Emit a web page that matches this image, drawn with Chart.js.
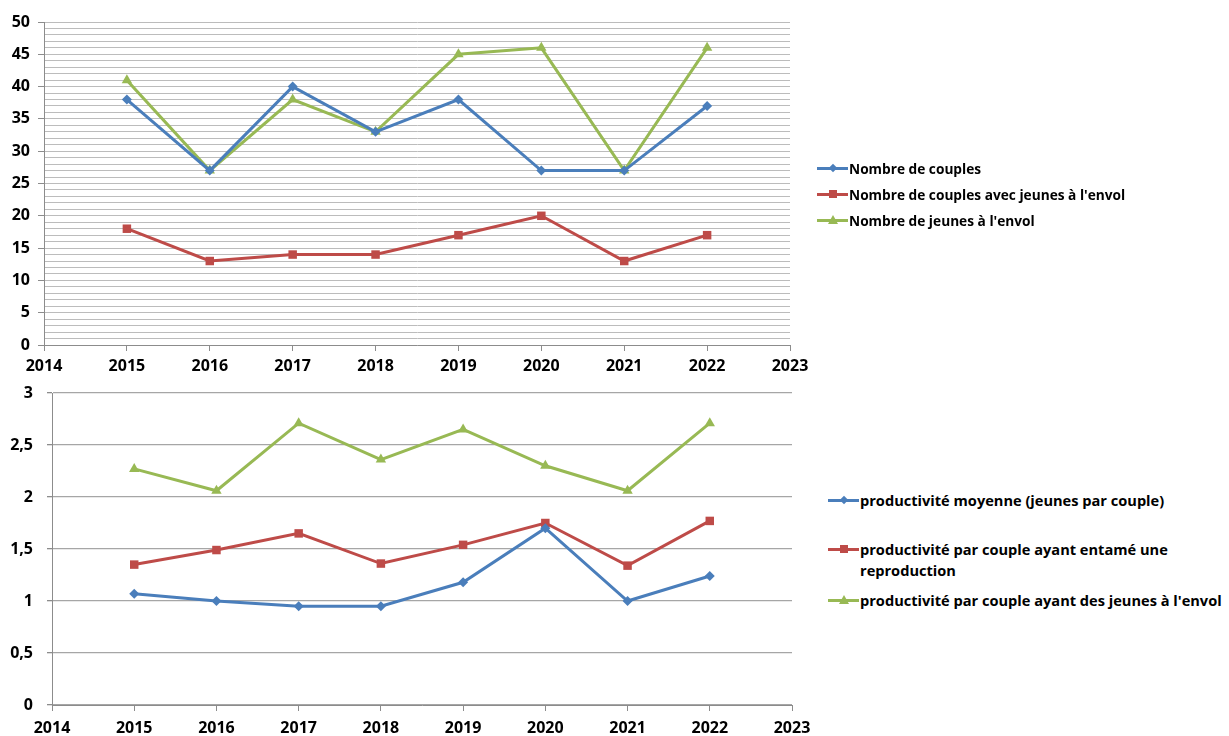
<!DOCTYPE html>
<html>
<head>
<meta charset="utf-8">
<script src="https://cdn.jsdelivr.net/npm/chart.js@4"></script>
<style>
  html, body { margin: 0; padding: 0; background: #fff; }
  body { width: 1229px; height: 736px; position: relative; overflow: hidden;
         font-family: "Open Sans", Arial, sans-serif; font-weight: bold; color: #000; }
  .box { position: absolute; }
  .leg { position: absolute; font-size: 13.7px; white-space: nowrap; }
  .leg .item { position: absolute; left: 0; }
  .leg .key { position: absolute; width: 31px; height: 3px; left: 0; top: -1.5px; }
  .leg .txt { position: absolute; left: 32px; top: -10px; line-height: 21px; }
  .mk { position: absolute; left: 50%; top: 50%; }
  .diamond { width: 6px; height: 6px; margin: -3px 0 0 -3px; transform: rotate(45deg); }
  .square { width: 8px; height: 8px; margin: -4px 0 0 -4px; }
  .tri { width: 0; height: 0; margin: -5px 0 0 -5px; border-left: 5px solid transparent;
         border-right: 5px solid transparent; border-bottom: 9px solid; }
</style>
</head>
<body>
<div class="box" style="left:0;top:0;width:820px;height:380px"><canvas id="topChart"></canvas></div>
<div class="box" style="left:0;top:380px;width:822px;height:356px"><canvas id="bottomChart"></canvas></div>

<div class="leg" id="topLegend" style="left:817px;top:0;"></div>
<div class="leg" id="bottomLegend" style="left:828px;top:0;font-size:14.6px;"></div>

<script>
var years = [2015, 2016, 2017, 2018, 2019, 2020, 2021, 2022];

var couples        = [38, 27, 40, 33, 38, 27, 27, 37];
var couplesJeunes  = [18, 13, 14, 14, 17, 20, 13, 17];
var jeunesEnvol    = [41, 27, 38, 33, 45, 46, 27, 46];

var prodMoyenne    = [1.07, 1.00, 0.95, 0.95, 1.18, 1.70, 1.00, 1.24];
var prodRepro      = [1.35, 1.49, 1.65, 1.36, 1.54, 1.75, 1.34, 1.77];
var prodEnvol      = [2.27, 2.06, 2.71, 2.36, 2.65, 2.30, 2.06, 2.71];

var topLabels = ["Nombre de couples", "Nombre de couples avec jeunes à l'envol", "Nombre de jeunes à l'envol"];
var bottomLabels = ["productivité moyenne (jeunes par couple)", "productivité par couple ayant entamé une\nreproduction", "productivité par couple ayant des jeunes à l'envol"];

var BLUE = "#4a7ebb", RED = "#be4b48", GREEN = "#98b954";
var colors = [BLUE, RED, GREEN];
var shapes = ["rectRot", "rect", "triangle"];
var radii = [5, 6, 6];

Chart.defaults.font.family = "'Open Sans', Arial, sans-serif";
Chart.defaults.font.weight = "bold";
Chart.defaults.color = "#000";
Chart.defaults.animation = false;

function pts(values) {
  return values.map(function (v, i) { return { x: years[i], y: v }; });
}

function makeSets(series) {
  return series.map(function (s, i) {
    return {
      data: pts(s),
      borderColor: colors[i],
      backgroundColor: colors[i],
      pointBackgroundColor: colors[i],
      pointBorderColor: colors[i],
      borderWidth: 3,
      pointStyle: shapes[i],
      pointRadius: radii[i],
      pointBorderWidth: 0,
      tension: 0
    };
  });
}

function xAxis(h, pad) {
  return {
    type: "linear",
    min: 2014, max: 2023,
    afterFit: function (s) { s.height = h; },
    border: { color: "#8c8c8c", width: 1 },
    grid: { drawOnChartArea: false, drawTicks: true, tickLength: 6, tickColor: "#8c8c8c" },
    ticks: { stepSize: 1, autoSkip: false, maxRotation: 0, padding: pad,
             font: { size: 16, weight: "bold" },
             callback: function (v) { return String(v); } }
  };
}

new Chart(document.getElementById("topChart"), {
  type: "line",
  data: { datasets: makeSets([couples, couplesJeunes, jeunesEnvol]) },
  options: {
    responsive: true,
    maintainAspectRatio: false,
    layout: { padding: { top: 22, right: 30, left: 0, bottom: 0 } },
    plugins: { legend: { display: false }, tooltip: { enabled: false } },
    scales: {
      x: xAxis(35, 6),
      y: {
        min: 0, max: 50,
        afterFit: function (s) { s.width = 44; s.paddingTop = 10; s.paddingBottom = 10; },
        border: { color: "#8c8c8c", width: 1 },
        grid: {
          color: "#bcbcbc",
          lineWidth: 1,
          tickLength: 6,
          tickColor: function (c) { return c.tick && c.tick.value % 5 === 0 ? "#8c8c8c" : "rgba(0,0,0,0)"; }
        },
        ticks: {
          stepSize: 1, autoSkip: false, maxTicksLimit: 100, padding: 8,
          font: { size: 16, weight: "bold" },
          callback: function (v) { return v % 5 === 0 ? String(v) : ""; }
        }
      }
    }
  }
});

new Chart(document.getElementById("bottomChart"), {
  type: "line",
  data: { datasets: makeSets([prodMoyenne, prodRepro, prodEnvol]) },
  options: {
    responsive: true,
    maintainAspectRatio: false,
    layout: { padding: { top: 13, right: 30, left: 0, bottom: 0 } },
    plugins: { legend: { display: false }, tooltip: { enabled: false } },
    scales: {
      x: xAxis(31, 8),
      y: {
        min: 0, max: 3,
        afterFit: function (s) { s.width = 52; s.paddingTop = 10; s.paddingBottom = 10; },
        border: { color: "#8c8c8c", width: 1 },
        grid: { color: "#a6a6a6", lineWidth: 1.3, tickLength: 5, tickColor: "#8c8c8c" },
        ticks: {
          stepSize: 0.5, padding: 14,
          font: { size: 16, weight: "bold" },
          callback: function (v) { return String(v).replace(".", ","); }
        }
      }
    }
  }
});

function buildLegend(el, labels, ys) {
  var cls = ["diamond", "square", "tri"];
  labels.forEach(function (label, i) {
    var item = document.createElement("div");
    item.className = "item";
    item.style.top = ys[i] + "px";
    var key = document.createElement("div");
    key.className = "key";
    key.style.background = colors[i];
    var mk = document.createElement("div");
    mk.className = "mk " + cls[i];
    if (cls[i] === "tri") mk.style.borderBottomColor = colors[i];
    else mk.style.background = colors[i];
    key.appendChild(mk);
    var txt = document.createElement("div");
    txt.className = "txt";
    txt.innerHTML = label.replace("\n", "<br>");
    item.appendChild(key);
    item.appendChild(txt);
    el.appendChild(item);
  });
}

buildLegend(document.getElementById("topLegend"), topLabels, [168, 194, 220]);
buildLegend(document.getElementById("bottomLegend"), bottomLabels, [500, 549, 600]);
</script>
</body>
</html>
